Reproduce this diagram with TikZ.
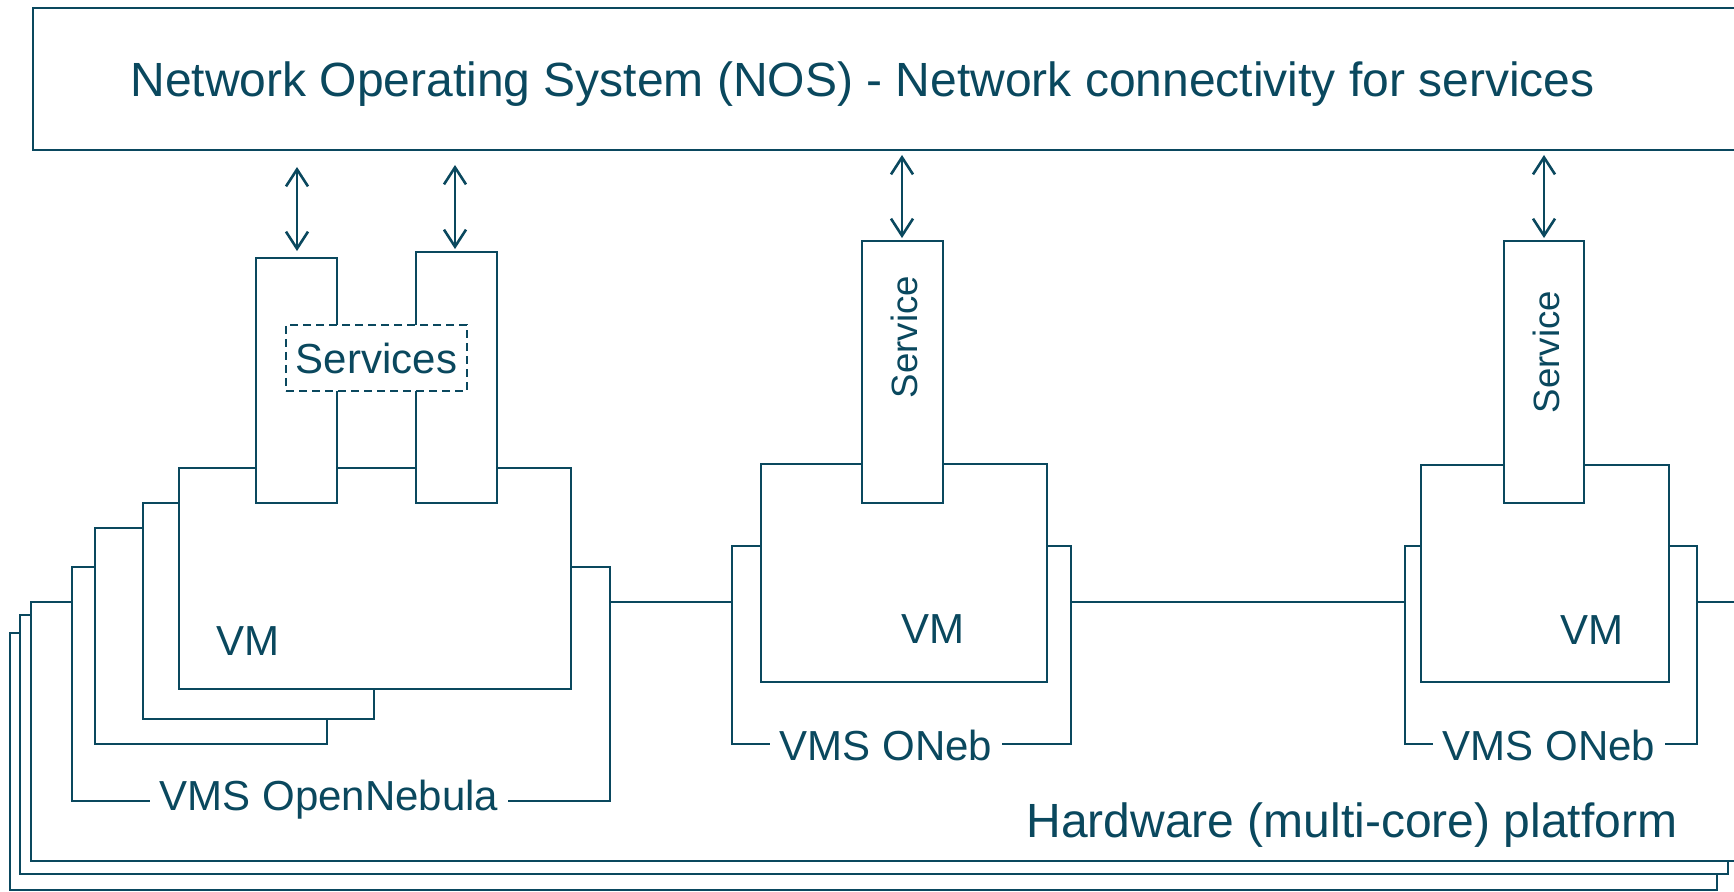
\documentclass[tikz,border=0pt]{standalone}
\usepackage{fontspec}
\setmainfont{Liberation Sans}
\usepackage{xcolor}
\usepackage{tikz}
\usetikzlibrary{arrows.meta, fit}
\definecolor{nosline}{RGB}{10,72,94}

\begin{document}
\begin{tikzpicture}[
        x=0.5pt, y=-0.5pt,
        every node/.style={text=nosline},
        plainbox/.style={draw=nosline, line width=0.95pt, fill=white, inner sep=0pt},
        boxtext/.style={inner sep=0pt, font=\fontsize{21}{25}\selectfont},
        edgetext/.style={boxtext, fill=white, inner xsep=5pt, inner ysep=2pt},
        bigtext/.style={boxtext, font=\fontsize{24}{28}\selectfont},
        biarrow/.style={draw=nosline, line width=1.3pt, {Straight Barb[length=8.5pt,width=11pt]}-{Straight Barb[length=8.5pt,width=11pt]}}
    ]
        \useasboundingbox (0,0) rectangle (1734,892);
        \clip (0,0) rectangle (1734,892);

        \node [plainbox, fit={(10,633) (1717,890)}] (hw3) {};
        \node [plainbox, fit={(20,615) (1728,874)}] (hw2) {};
        \node [plainbox, fit={(31,602) (1760,861)}] (hw) {};
        \node [bigtext, anchor=base west] (hwtext) at (1026,837) {Hardware (multi-core) platform};

        \node [plainbox, fit={(72,567) (610,801)}] (vmsA) {};
        \node [plainbox, fit={(95,528) (327,744)}] (vmA3) {};
        \node [plainbox, fit={(143,503) (374,719)}] (vmA2) {};
        \node [plainbox, fit={(179,468) (571,689)}] (vmA) {};
        \node [plainbox, fit={(256,258) (337,503)}] (svcA1) {};
        \node [plainbox, fit={(416,252) (497,503)}] (svcA2) {};
        \node [plainbox, dash pattern=on 4pt off 2.5pt, fit={(286,325) (467,391)}] (svcgroup) {};
        \node [boxtext] (svcgrouptext) at (svcgroup.center) {Services};
        \node [boxtext, anchor=base west] (vmAtext) at (216,655) {VM};
        \node [edgetext, anchor=base] (vmsAtext) at (329,810) {VMS OpenNebula};

        \node [plainbox, fit={(732,546) (1071,744)}] (vmsB) {};
        \node [plainbox, fit={(761,464) (1047,682)}] (vmB) {};
        \node [plainbox, fit={(862,241) (943,503)}] (svcB) {};
        \node [boxtext, font=\fontsize{18.3}{22}\selectfont, rotate=90] (svcBtext) at (904,337) {Service};
        \node [boxtext, anchor=base] (vmBtext) at (933,643) {VM};
        \node [edgetext, anchor=base] (vmsBtext) at (886,760) {VMS ONeb};

        \node [plainbox, fit={(1405,546) (1697,744)}] (vmsC) {};
        \node [plainbox, fit={(1421,465) (1669,682)}] (vmC) {};
        \node [plainbox, fit={(1504,241) (1584,503)}] (svcC) {};
        \node [boxtext, font=\fontsize{18.3}{22}\selectfont, rotate=90] (svcCtext) at (1546,352) {Service};
        \node [boxtext, anchor=base] (vmCtext) at (1592,644) {VM};
        \node [edgetext, anchor=base] (vmsCtext) at (1549,760) {VMS ONeb};

        \node [plainbox, fit={(33,8) (1760,150)}] (nos) {};
        \node [bigtext, anchor=base west] (nostext) at (130,97) {Network Operating System (NOS) - Network connectivity for services};

        \coordinate (pA1) at (297,167);
        \coordinate (pA2) at (455,165);
        \coordinate (pB) at (902,155);
        \coordinate (pC) at (1544,155);

        \draw [biarrow, shorten >=3pt] (pA1) -- (pA1 |- svcA1.north);
        \draw [biarrow, shorten >=1pt] (pA2) -- (pA2 |- svcA2.north);
        \draw [biarrow, shorten >=1pt] (pB) -- (pB |- svcB.north);
        \draw [biarrow, shorten >=1pt] (pC) -- (pC |- svcC.north);
    \end{tikzpicture}
\end{document}
